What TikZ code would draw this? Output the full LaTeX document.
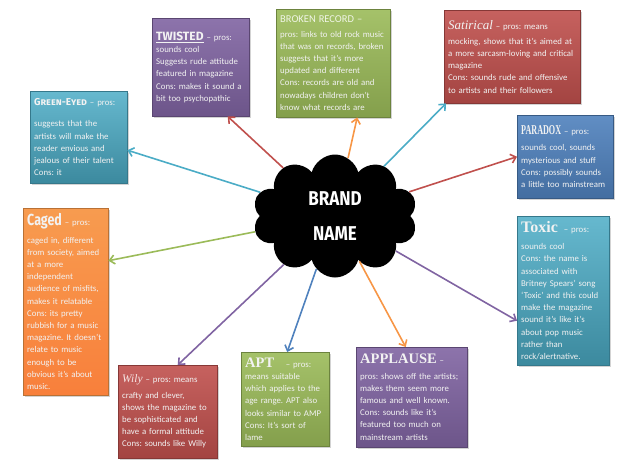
\documentclass[tikz,border=0pt]{standalone}
\usepackage{fontspec}
\setmainfont{Carlito}
\newfontfamily\ttlserif{Liberation Serif}
\newfontfamily\ttlnarrow[FakeStretch=0.6]{Liberation Serif}
\newfontfamily\ttlheavy[FakeStretch=0.78]{Fira Sans}
\newfontfamily\ttlbrand[FakeStretch=0.85]{Fira Sans}
\newfontfamily\ttlsans{Fira Sans}
\usepackage{xcolor}
\usepackage{tikz}
\usetikzlibrary{positioning, arrows.meta, shapes.symbols, shadows}
\frenchspacing
\hyphenpenalty=10000

% Office colours
\definecolor{acblue}{HTML}{4F81BD}
\definecolor{acred}{HTML}{C0504D}
\definecolor{acgreen}{HTML}{9BBB59}
\definecolor{acpurple}{HTML}{8064A2}
\definecolor{acteal}{HTML}{4BACC6}
\definecolor{acorange}{HTML}{F79646}

\begin{document}
\begin{tikzpicture}[
    x=1pt, y=1pt,
    >={Straight Barb[length=5pt, width=9pt]},
    card/.style={rectangle, anchor=north west, text width=#1, inner xsep=4pt, inner ysep=3pt, align=left,
        text=white!95!black, font=\fontsize{8.8}{12.2}\selectfont,
        drop shadow={shadow xshift=1.5pt, shadow yshift=-1.5pt, opacity=0.35}},
    tealcard/.style={top color=acteal!85!white, bottom color=acteal!80!black, draw=acteal!70!black},
    purplecard/.style={top color=acpurple!90!white, bottom color=acpurple!85!black, draw=acpurple!70!black},
    greencard/.style={top color=acgreen!90!white, bottom color=acgreen!85!black, draw=acgreen!70!black},
    redcard/.style={top color=acred!90!white, bottom color=acred!85!black, draw=acred!70!black},
    bluecard/.style={top color=acblue!90!white, bottom color=acblue!85!black, draw=acblue!70!black},
    orangecard/.style={top color=acorange!95!white, bottom color=acorange!85!red, draw=acorange!75!black},
    link/.style={->, line width=1.6pt},
]

\useasboundingbox (0,0) rectangle (640,-467);

% Centre
\node[cloud, cloud puffs=10, cloud ignores aspect, minimum width=165, minimum height=123, fill=black,
    text=white, align=center, font=\ttlbrand\bfseries\fontsize{20}{35}\selectfont] (brand) at (335,-216) {BRAND\\NAME};

% Top row
\node[card=89, tealcard, minimum height=92] (greeneyed) at (30,-91)
    {{\ttlsans\bfseries\scshape\fontsize{10}{12}\selectfont Green-Eyed} -- pros:\\[9pt]
     suggests that the\\ artists will make the\\ reader envious and\\ jealous of their talent\\ Cons: it};

\node[card=89, purplecard, minimum height=98] (twisted) at (152,-18)
    {{\ttlsans\bfseries\fontsize{12}{12}\selectfont\underline{TWISTED}} -- pros:\\
     sounds cool\\ Suggests rude attitude\\ featured in magazine\\ Cons: makes it sound a\\ bit too psychopathic};

\node[card=106, greencard, minimum height=108] (broken) at (276,-9)
    {{\color{acgreen!15!white}\fontsize{10.5}{12}\selectfont BROKEN RECORD --}\\[2pt]
     pros: links to old rock music\\ that was on records, broken\\ suggests that it's more\\ updated and different\\
     Cons: records are old and\\ nowadays children don't\\ know what records are};

\node[card=128, redcard, minimum height=93] (satirical) at (444,-10)
    {{\ttlserif\itshape\fontsize{13}{13}\selectfont Satirical} -- pros: means\\[3pt]
     mocking, shows that it's aimed at\\ a more sarcasm-loving and critical\\ magazine\\
     Cons: sounds rude and offensive\\ to artists and their followers};

% Right column
\node[card=88, bluecard, minimum height=83] (paradox) at (517,-115)
    {{\ttlnarrow\bfseries\fontsize{13.5}{13.5}\selectfont PARADOX} -- pros:\\[4pt]
     sounds cool, sounds\\ mysterious and stuff\\ Cons: possibly sounds\\ a little too mainstream};

\node[card=84, tealcard, minimum height=149] (toxic) at (517,-216)
    {{\ttlserif\bfseries\fontsize{16}{16}\selectfont Toxic} \ -- pros:\\[5pt]
     sounds cool\\ Cons: the name is\\ associated with\\ Britney Spears' song\\ `Toxic' and this could\\
     make the magazine\\ sound it's like it's\\ about pop music\\ rather than\\ rock/alertnative.};

% Left column
\node[card=77, orangecard, minimum height=187] (caged) at (23,-208)
    {{\ttlheavy\bfseries\fontsize{16}{16}\selectfont Caged} -- pros:\\[5pt]
     caged in, different\\ from society, aimed\\ at a more\\ independent\\ audience of misfits,\\ makes it relatable\\
     Cons: its pretty\\ rubbish for a music\\ magazine. It doesn't\\ relate to music\\ enough to be\\ obvious it's about\\ music.};

% Bottom row
\node[card=91, redcard, minimum height=93] (wily) at (118,-365)
    {{\ttlserif\itshape\fontsize{11.5}{12}\selectfont\color{acred!15!white} Wily} -- pros: means\\[3pt]
     crafty and clever,\\ shows the magazine to\\ be sophisticated and\\ have a formal attitude\\ Cons: sounds like Willy};

\node[card=80, greencard, minimum height=94] (apt) at (241,-352)
    {{\ttlserif\bfseries\fontsize{14.5}{14.5}\selectfont APT} \quad -- pros:\\
     means suitable\\ which applies to the\\ age range. APT also\\ looks similar to AMP\\ Cons: It's sort of\\ lame};

\node[card=103, purplecard, minimum height=100] (applause) at (356,-347)
    {{\ttlserif\bfseries\fontsize{14.5}{14.5}\selectfont APPLAUSE} --\\[3pt]
     pros: shows off the artists;\\ makes them seem more\\ famous and well known.\\
     Cons: sounds like it's\\ featured too much on\\ mainstream artists};

% Links
\draw[link, acteal] (brand) -- ([yshift=-13pt]greeneyed.east);
\draw[link, acred] (brand) -- ([xshift=27pt]twisted.south);
\draw[link, acorange] (brand) -- ([xshift=24pt]broken.south);
\draw[link, acteal] (brand) -- ([xshift=2pt]satirical.south west);
\draw[link, acred] (brand) -- (paradox.west);
\draw[link, acpurple] (brand) -- ([yshift=-30pt]toxic.west);
\draw[link, acorange] (brand) -- ([xshift=-6pt]applause.north);
\draw[link, acblue] (brand) -- ([xshift=2pt]apt.north);
\draw[link, acpurple] (brand) -- ([xshift=10pt]wily.north);
\draw[link, acgreen] (brand) -- ([yshift=41pt]caged.east);

\end{tikzpicture}
\end{document}
